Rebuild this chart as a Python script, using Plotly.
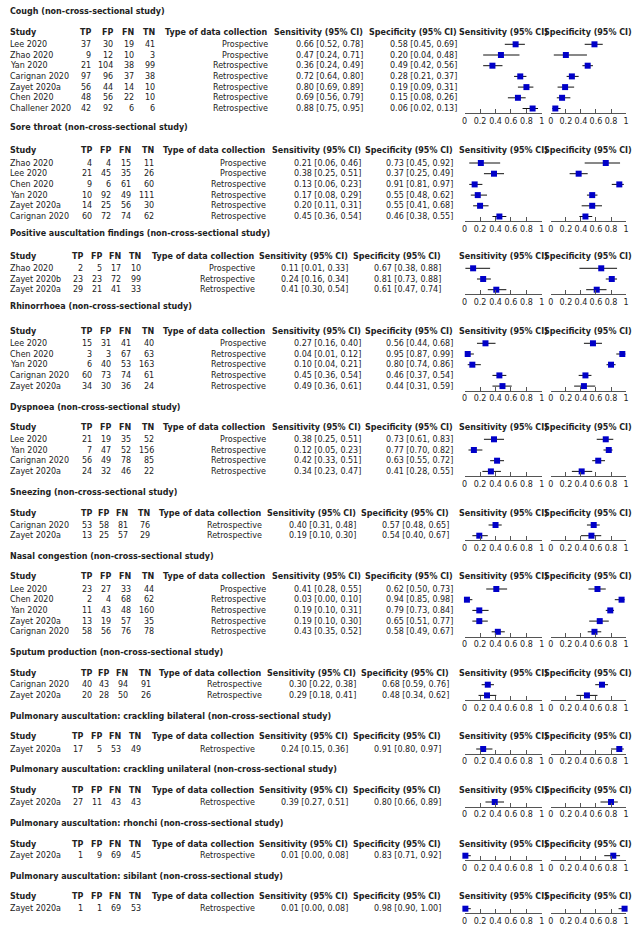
import plotly.graph_objects as go

# ---------------- data ----------------
section_titles = [
    "Cough (non-cross-sectional study)",
    "Sore throat (non-cross-sectional study)",
    "Positive auscultation findings (non-cross-sectional study)",
    "Rhinorrhoea (non-cross-sectional study)",
    "Dyspnoea (non-cross-sectional study)",
    "Sneezing (non-cross-sectional study)",
    "Nasal congestion (non-cross-sectional study)",
    "Sputum production (non-cross-sectional study)",
    "Pulmonary auscultation: crackling bilateral (non-cross-sectional study)",
    "Pulmonary auscultation: crackling unilateral (non-cross-sectional study)",
    "Pulmonary auscultation: rhonchi (non-cross-sectional study)",
    "Pulmonary auscultation: sibilant (non-cross-sectional study)",
]
section_sizes = [7, 6, 3, 5, 4, 2, 5, 2, 1, 1, 1, 1]

studies = [
    "Lee 2020", "Zhao 2020", "Yan 2020", "Carignan 2020", "Zayet 2020a", "Chen 2020", "Challener 2020",
    "Zhao 2020", "Lee 2020", "Chen 2020", "Yan 2020", "Zayet 2020a", "Carignan 2020",
    "Zhao 2020", "Zayet 2020b", "Zayet 2020a",
    "Lee 2020", "Chen 2020", "Yan 2020", "Carignan 2020", "Zayet 2020a",
    "Lee 2020", "Yan 2020", "Carignan 2020", "Zayet 2020a",
    "Carignan 2020", "Zayet 2020a",
    "Lee 2020", "Chen 2020", "Yan 2020", "Zayet 2020a", "Carignan 2020",
    "Carignan 2020", "Zayet 2020a",
    "Zayet 2020a", "Zayet 2020a", "Zayet 2020a", "Zayet 2020a",
]
tp = [37, 9, 21, 97, 56, 48, 42, 4, 21, 9, 10, 14, 60, 2, 23, 29, 15, 3, 6, 60, 34,
      21, 7, 56, 24, 53, 13, 23, 2, 11, 13, 58, 40, 20, 17, 27, 1, 1]
fp = [30, 12, 104, 96, 44, 56, 92, 4, 45, 6, 92, 25, 72, 5, 23, 21, 31, 3, 40, 73, 30,
      19, 47, 49, 32, 58, 25, 27, 4, 43, 19, 56, 43, 28, 5, 11, 9, 1]
fn = [19, 10, 38, 37, 14, 22, 6, 15, 35, 61, 49, 56, 74, 17, 72, 41, 41, 67, 53, 74, 36,
      35, 52, 78, 46, 81, 57, 33, 68, 48, 57, 76, 94, 50, 53, 43, 69, 69]
tn = [41, 3, 99, 38, 10, 10, 6, 11, 26, 60, 111, 30, 62, 10, 99, 33, 40, 63, 163, 61, 24,
      52, 156, 85, 22, 76, 29, 44, 62, 160, 35, 78, 91, 26, 49, 43, 45, 53]
collection = (["Prospective"] * 2 + ["Retrospective"] * 5 +
              ["Prospective"] * 2 + ["Retrospective"] * 4 +
              ["Prospective"] + ["Retrospective"] * 2 +
              ["Prospective"] + ["Retrospective"] * 4 +
              ["Prospective"] + ["Retrospective"] * 3 +
              ["Retrospective"] * 2 +
              ["Prospective"] + ["Retrospective"] * 4 +
              ["Retrospective"] * 2 +
              ["Retrospective"] * 4)
sens = [0.66, 0.47, 0.36, 0.72, 0.80, 0.69, 0.88, 0.21, 0.38, 0.13, 0.17, 0.20, 0.45,
        0.11, 0.24, 0.41, 0.27, 0.04, 0.10, 0.45, 0.49, 0.38, 0.12, 0.42, 0.34, 0.40, 0.19,
        0.41, 0.03, 0.19, 0.19, 0.43, 0.30, 0.29, 0.24, 0.39, 0.01, 0.01]
sens_lo = [0.52, 0.24, 0.24, 0.64, 0.69, 0.56, 0.75, 0.06, 0.25, 0.06, 0.08, 0.11, 0.36,
           0.01, 0.16, 0.30, 0.16, 0.01, 0.04, 0.36, 0.36, 0.25, 0.05, 0.33, 0.23, 0.31, 0.10,
           0.28, 0.00, 0.10, 0.10, 0.35, 0.22, 0.18, 0.15, 0.27, 0.00, 0.00]
sens_hi = [0.78, 0.71, 0.49, 0.80, 0.89, 0.79, 0.95, 0.46, 0.51, 0.23, 0.29, 0.31, 0.54,
           0.33, 0.34, 0.54, 0.40, 0.12, 0.21, 0.54, 0.61, 0.51, 0.23, 0.51, 0.47, 0.48, 0.30,
           0.55, 0.10, 0.31, 0.30, 0.52, 0.38, 0.41, 0.36, 0.51, 0.08, 0.08]
spec = [0.58, 0.20, 0.49, 0.28, 0.19, 0.15, 0.06, 0.73, 0.37, 0.91, 0.55, 0.55, 0.46,
        0.67, 0.81, 0.61, 0.56, 0.95, 0.80, 0.46, 0.44, 0.73, 0.77, 0.63, 0.41, 0.57, 0.54,
        0.62, 0.94, 0.79, 0.65, 0.58, 0.68, 0.48, 0.91, 0.80, 0.83, 0.98]
spec_lo = [0.45, 0.04, 0.42, 0.21, 0.09, 0.08, 0.02, 0.45, 0.25, 0.81, 0.48, 0.41, 0.38,
           0.38, 0.73, 0.47, 0.44, 0.87, 0.74, 0.37, 0.31, 0.61, 0.70, 0.55, 0.28, 0.48, 0.40,
           0.50, 0.85, 0.73, 0.51, 0.49, 0.59, 0.34, 0.80, 0.66, 0.71, 0.90]
spec_hi = [0.69, 0.48, 0.56, 0.37, 0.31, 0.26, 0.13, 0.92, 0.49, 0.97, 0.62, 0.68, 0.55,
           0.88, 0.88, 0.74, 0.68, 0.99, 0.86, 0.54, 0.59, 0.83, 0.82, 0.72, 0.55, 0.65, 0.67,
           0.73, 0.98, 0.84, 0.77, 0.67, 0.76, 0.62, 0.97, 0.89, 0.92, 1.00]

tick_values = [0, 0.2, 0.4, 0.6, 0.8, 1]
tick_labels = ["0", "0.2", "0.4", "0.6", "0.8", "1"]
header_cells = ["TP", "FP", "FN", "TN", "Type of data collection",
                "Sensitivity (95% CI)", "Specificity (95% CI)"]

# ---------------- layout (pixels) ----------------
W, H = 638, 952
FONT = "DejaVu Sans"
FS = 8
TXT = "#222222"
PITCH = 10.7
title_y = [12, 128, 233, 307, 407, 492, 556, 652, 716, 769, 823, 876]
header_y = [33, 150, 257, 331.5, 428, 513.3, 576.7, 673.3, 736.7, 790.7, 844, 896.7]
first_row_y = [44.3, 163, 268.3, 343.3, 439.3, 525, 589, 684.7, 749, 802, 855.7, 908.7]
col_right = [
    [89, 111, 132, 153, 268, 363, 458],
    [90, 109, 129, 152, 266, 361, 454],
    [81, 100, 119, 139, 254, 348, 442],
    [90, 109, 129, 152, 266, 361, 454],
    [90, 109, 129, 152, 266, 361, 454],
    [90, 107, 126, 148, 261, 356, 450],
    [90, 109, 129, 152, 266, 361, 454],
    [90, 107, 126, 149, 261, 356, 450],
    [81, 100, 119, 139, 254, 348, 442],
    [81, 100, 119, 139, 254, 348, 442],
    [81, 100, 119, 139, 254, 348, 442],
    [81, 100, 119, 139, 254, 348, 442],
]
STUDY_X = 7
SENS_PX = (466, 544)
SPEC_PX = (553, 629)


def fx(x):
    return x / W


def fy(y):
    return 1 - y / H


annotations = []


def ann(text, x, y, anchor, bold=False):
    annotations.append(dict(
        text=f"<b>{text}</b>" if bold else text,
        x=fx(x), y=fy(y), xref="paper", yref="paper",
        xanchor=anchor, yanchor="middle", showarrow=False,
        borderpad=0, borderwidth=0,
        font=dict(family=FONT, size=FS, color=TXT),
    ))


fig = go.Figure()
layout_axes = {}
start = 0
for s, title in enumerate(section_titles):
    n = section_sizes[s]
    rows = list(range(start, start + n))
    cr = col_right[s]
    ann(title, STUDY_X, title_y[s], "left", bold=True)
    ann("Study", STUDY_X, header_y[s], "left", bold=True)
    for c, h in enumerate(header_cells):
        ann(h, cr[c], header_y[s], "right", bold=True)
    ann("Sensitivity (95% CI)", (SENS_PX[0] + SENS_PX[1]) / 2, header_y[s], "center", bold=True)
    ann("Specificity (95% CI)", (SPEC_PX[0] + SPEC_PX[1]) / 2, header_y[s], "center", bold=True)
    for k, i in enumerate(rows):
        y = first_row_y[s] + k * PITCH
        ann(studies[i], STUDY_X, y, "left")
        cells = [str(tp[i]), str(fp[i]), str(fn[i]), str(tn[i]), collection[i],
                 f"{sens[i]:.2f} [{sens_lo[i]:.2f}, {sens_hi[i]:.2f}]",
                 f"{spec[i]:.2f} [{spec_lo[i]:.2f}, {spec_hi[i]:.2f}]"]
        for c, t in enumerate(cells):
            ann(t, cr[c], y, "right")

    last_y = first_row_y[s] + (n - 1) * PITCH
    axis_y = last_y + 4.7
    top_y = first_row_y[s] - PITCH / 2
    for j, (v, lo, hi, xpx) in enumerate([(sens, sens_lo, sens_hi, SENS_PX),
                                           (spec, spec_lo, spec_hi, SPEC_PX)]):
        k = 2 * s + j + 1
        xname = "x" if k == 1 else f"x{k}"
        yname = "y" if k == 1 else f"y{k}"
        vals = [v[i] for i in rows]
        fig.add_trace(go.Scatter(
            x=vals, y=list(range(n)), mode="markers",
            marker=dict(symbol="square", size=6, color="#0000c8",
                        line=dict(width=0)),
            error_x=dict(type="data", symmetric=False,
                         array=[hi[i] - v[i] for i in rows],
                         arrayminus=[v[i] - lo[i] for i in rows],
                         color="#111111", thickness=1, width=0),
            xaxis=xname, yaxis=yname, cliponaxis=False,
            showlegend=False, hoverinfo="skip",
        ))
        layout_axes["xaxis" if k == 1 else f"xaxis{k}"] = dict(
            domain=[fx(xpx[0]), fx(xpx[1])], range=[0, 1], anchor=yname,
            showline=True, linecolor="#555555", linewidth=1,
            ticks="inside", ticklen=4, tickcolor="#555555", tickwidth=1,
            tickvals=tick_values, ticktext=tick_labels, tickangle=0,
            tickfont=dict(family=FONT, size=FS, color=TXT),
            showgrid=False, zeroline=False, fixedrange=True,
        )
        layout_axes["yaxis" if k == 1 else f"yaxis{k}"] = dict(
            domain=[fy(axis_y), fy(top_y)],
            range=[(axis_y - first_row_y[s]) / PITCH, -0.5],
            visible=False, anchor=xname, fixedrange=True,
        )
    start += n

fig.update_layout(
    width=W, height=H, autosize=False,
    margin=dict(l=0, r=0, t=0, b=0),
    paper_bgcolor="white", plot_bgcolor="rgba(0,0,0,0)",
    annotations=annotations,
    **layout_axes,
)

fig.write_html("out.html", config={"displayModeBar": False},
               post_script="document.body.style.margin='0px';")
